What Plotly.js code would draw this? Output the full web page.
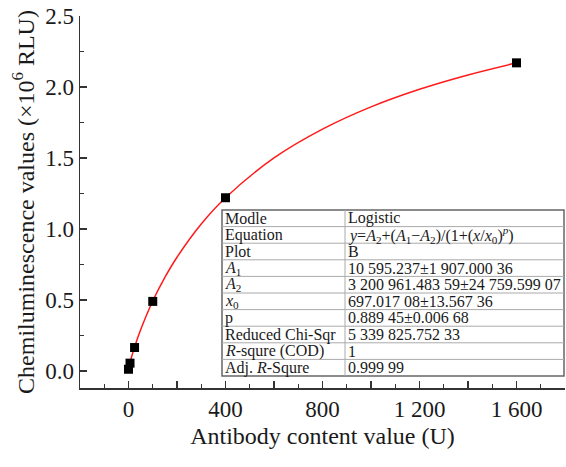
<!DOCTYPE html>
<html><head><meta charset="utf-8">
<script src="https://cdn.plot.ly/plotly-3.0.1.min.js"></script>
<style>html,body{margin:0;padding:0;background:#fff}#chart{width:566px;height:467px}</style>
</head><body><div id="chart"></div>
<script>
// measured points (x in U, y in 10^6 RLU)
var antibodyU = [0, 6.25, 25, 100, 400, 1600];
var signalRLU = [0.012, 0.055, 0.165, 0.49, 1.22, 2.17];
// fitted logistic curve samples
var fitX = [0, 6.25, 12.5, 25, 50, 100, 150, 200, 300, 400, 600, 800, 1000, 1200, 1400, 1600];
var fitY = [0.011, 0.058, 0.098, 0.168, 0.290, 0.493, 0.659, 0.801, 1.035, 1.220, 1.500, 1.703, 1.860, 1.984, 2.085, 2.170];
// x tick labels
var xTickVals = [0, 400, 800, 1200, 1600];
var xTickText = ['0', '400', '800', '1 200', '1 600'];
var xMidTickVals = [200, 600, 1000, 1400, 1800];
// fit result table
var tableLabels = ['Modle', 'Equation', 'Plot', '<i>A</i><sub>1</sub>', '<i>A</i><sub>2</sub>', '<i>x</i><sub>0</sub>', 'p', 'Reduced Chi-Sqr', '<i>R</i>-squre (COD)', 'Adj. <i>R</i>-Squre'];
var tableValues = ['Logistic',
  '<i>y</i>=<i>A</i><sub>2</sub>+(<i>A</i><sub>1</sub>\u2212<i>A</i><sub>2</sub>)/(1+(<i>x</i>/<i>x</i><sub>0</sub>)<sup><i>p</i></sup>)',
  'B', '10 595.237\u00b11 907.000 36', '3 200 961.483 59\u00b124 759.599 07', '697.017 08\u00b113.567 36',
  '0.889 45\u00b10.006 68', '5 339 825.752 33', '1', '0.999 99'];

var W = 566, H = 467, mL = 80, mR = 1, mT = 16, mB = 79;
var pw = W - mL - mR, ph = H - mT - mB;
function px(x) { return (x - mL) / pw; }
function py(y) { return (H - mB - y) / ph; }

var font = 'Liberation Serif, Times New Roman, serif';
var traces = [
  {x: fitX, y: fitY, mode: 'lines', line: {color: '#ff1a1a', width: 1.5, shape: 'spline'}, hoverinfo: 'skip'},
  {x: antibodyU, y: signalRLU, mode: 'markers', marker: {symbol: 'square', size: 9, color: '#000'}},
  {x: [], y: [], xaxis: 'x2', mode: 'markers', hoverinfo: 'skip'}
];

var tL = 222, tR = 564, tT = 210, tB = 376, tC = 345;
var nRows = tableLabels.length;
var rh = (tB - tT) / nRows;
var shapes = [];
var annotations = [];
shapes.push({type: 'rect', xref: 'paper', yref: 'paper', x0: px(tL), x1: px(tR), y0: py(tT), y1: py(tB), line: {color: '#666', width: 1.5}, fillcolor: 'rgba(255,255,255,1)', layer: 'above'});
for (var i = 1; i < nRows; i++) {
  var yy = tT + i * rh;
  shapes.push({type: 'line', xref: 'paper', yref: 'paper', x0: px(tL), x1: px(tR), y0: py(yy), y1: py(yy), line: {color: '#aaa', width: 1}});
}
shapes.push({type: 'line', xref: 'paper', yref: 'paper', x0: px(tC), x1: px(tC), y0: py(tT), y1: py(tB), line: {color: '#aaa', width: 1}});
for (var j = 0; j < nRows; j++) {
  var yc = tT + (j + 0.5) * rh;
  annotations.push({xref: 'paper', yref: 'paper', x: px(tL + 2), y: py(yc), xanchor: 'left', yanchor: 'middle', showarrow: false, text: tableLabels[j], font: {family: font, size: 16, color: '#1a1a1a'}, borderpad: 0});
  annotations.push({xref: 'paper', yref: 'paper', x: px(tC + 2), y: py(yc), xanchor: 'left', yanchor: 'middle', showarrow: false, text: tableValues[j], font: {family: font, size: 16, color: '#1a1a1a'}, borderpad: 0});
}

var layout = {
  width: W, height: H,
  margin: {l: mL, r: mR, t: mT, b: mB},
  paper_bgcolor: '#fff', plot_bgcolor: '#fff',
  showlegend: false,
  font: {family: font, color: '#1a1a1a'},
  xaxis: {
    range: [-200, 1800], showgrid: false, zeroline: false,
    showline: true, linecolor: '#333', linewidth: 1.5,
    ticks: 'inside', ticklen: 7, tickwidth: 1.2, tickcolor: '#333',
    tickmode: 'array', tickvals: xTickVals, ticktext: xTickText,
    minor: {tickmode: 'array', tickvals: xMidTickVals, ticks: 'inside', ticklen: 7, tickcolor: '#333', tickwidth: 1.2},
    tickfont: {family: font, size: 23, color: '#1a1a1a'},
    title: {text: 'Antibody content value (U)', font: {family: font, size: 24, color: '#1a1a1a'}, standoff: 6}
  },
  xaxis2: {
    overlaying: 'x', side: 'bottom', anchor: 'y',
    range: [-200, 1800], showgrid: false, zeroline: false, showline: false,
    showticklabels: false, ticks: 'inside', ticklen: 4, tickwidth: 1.2, tickcolor: '#333',
    tickmode: 'linear', tick0: -100, dtick: 200
  },
  yaxis: {
    range: [-0.12, 2.5], showgrid: false, zeroline: false,
    showline: true, linecolor: '#333', linewidth: 1.5,
    ticks: 'inside', ticklen: 7, tickwidth: 1.2, tickcolor: '#333',
    tickmode: 'linear', tick0: 0, dtick: 0.5, tickformat: '.1f',
    minor: {dtick: 0.25, tick0: 0, ticks: 'inside', ticklen: 4, tickcolor: '#333', tickwidth: 1.2},
    tickfont: {family: font, size: 23, color: '#1a1a1a'},
    title: {text: 'Chemiluminescence values (\u00d710<sup>6</sup> RLU)', font: {family: font, size: 24, color: '#1a1a1a'}, standoff: 4}
  },
  shapes: shapes,
  annotations: annotations
};
Plotly.newPlot('chart', traces, layout, {displayModeBar: false, staticPlot: true});
</script></body></html>
